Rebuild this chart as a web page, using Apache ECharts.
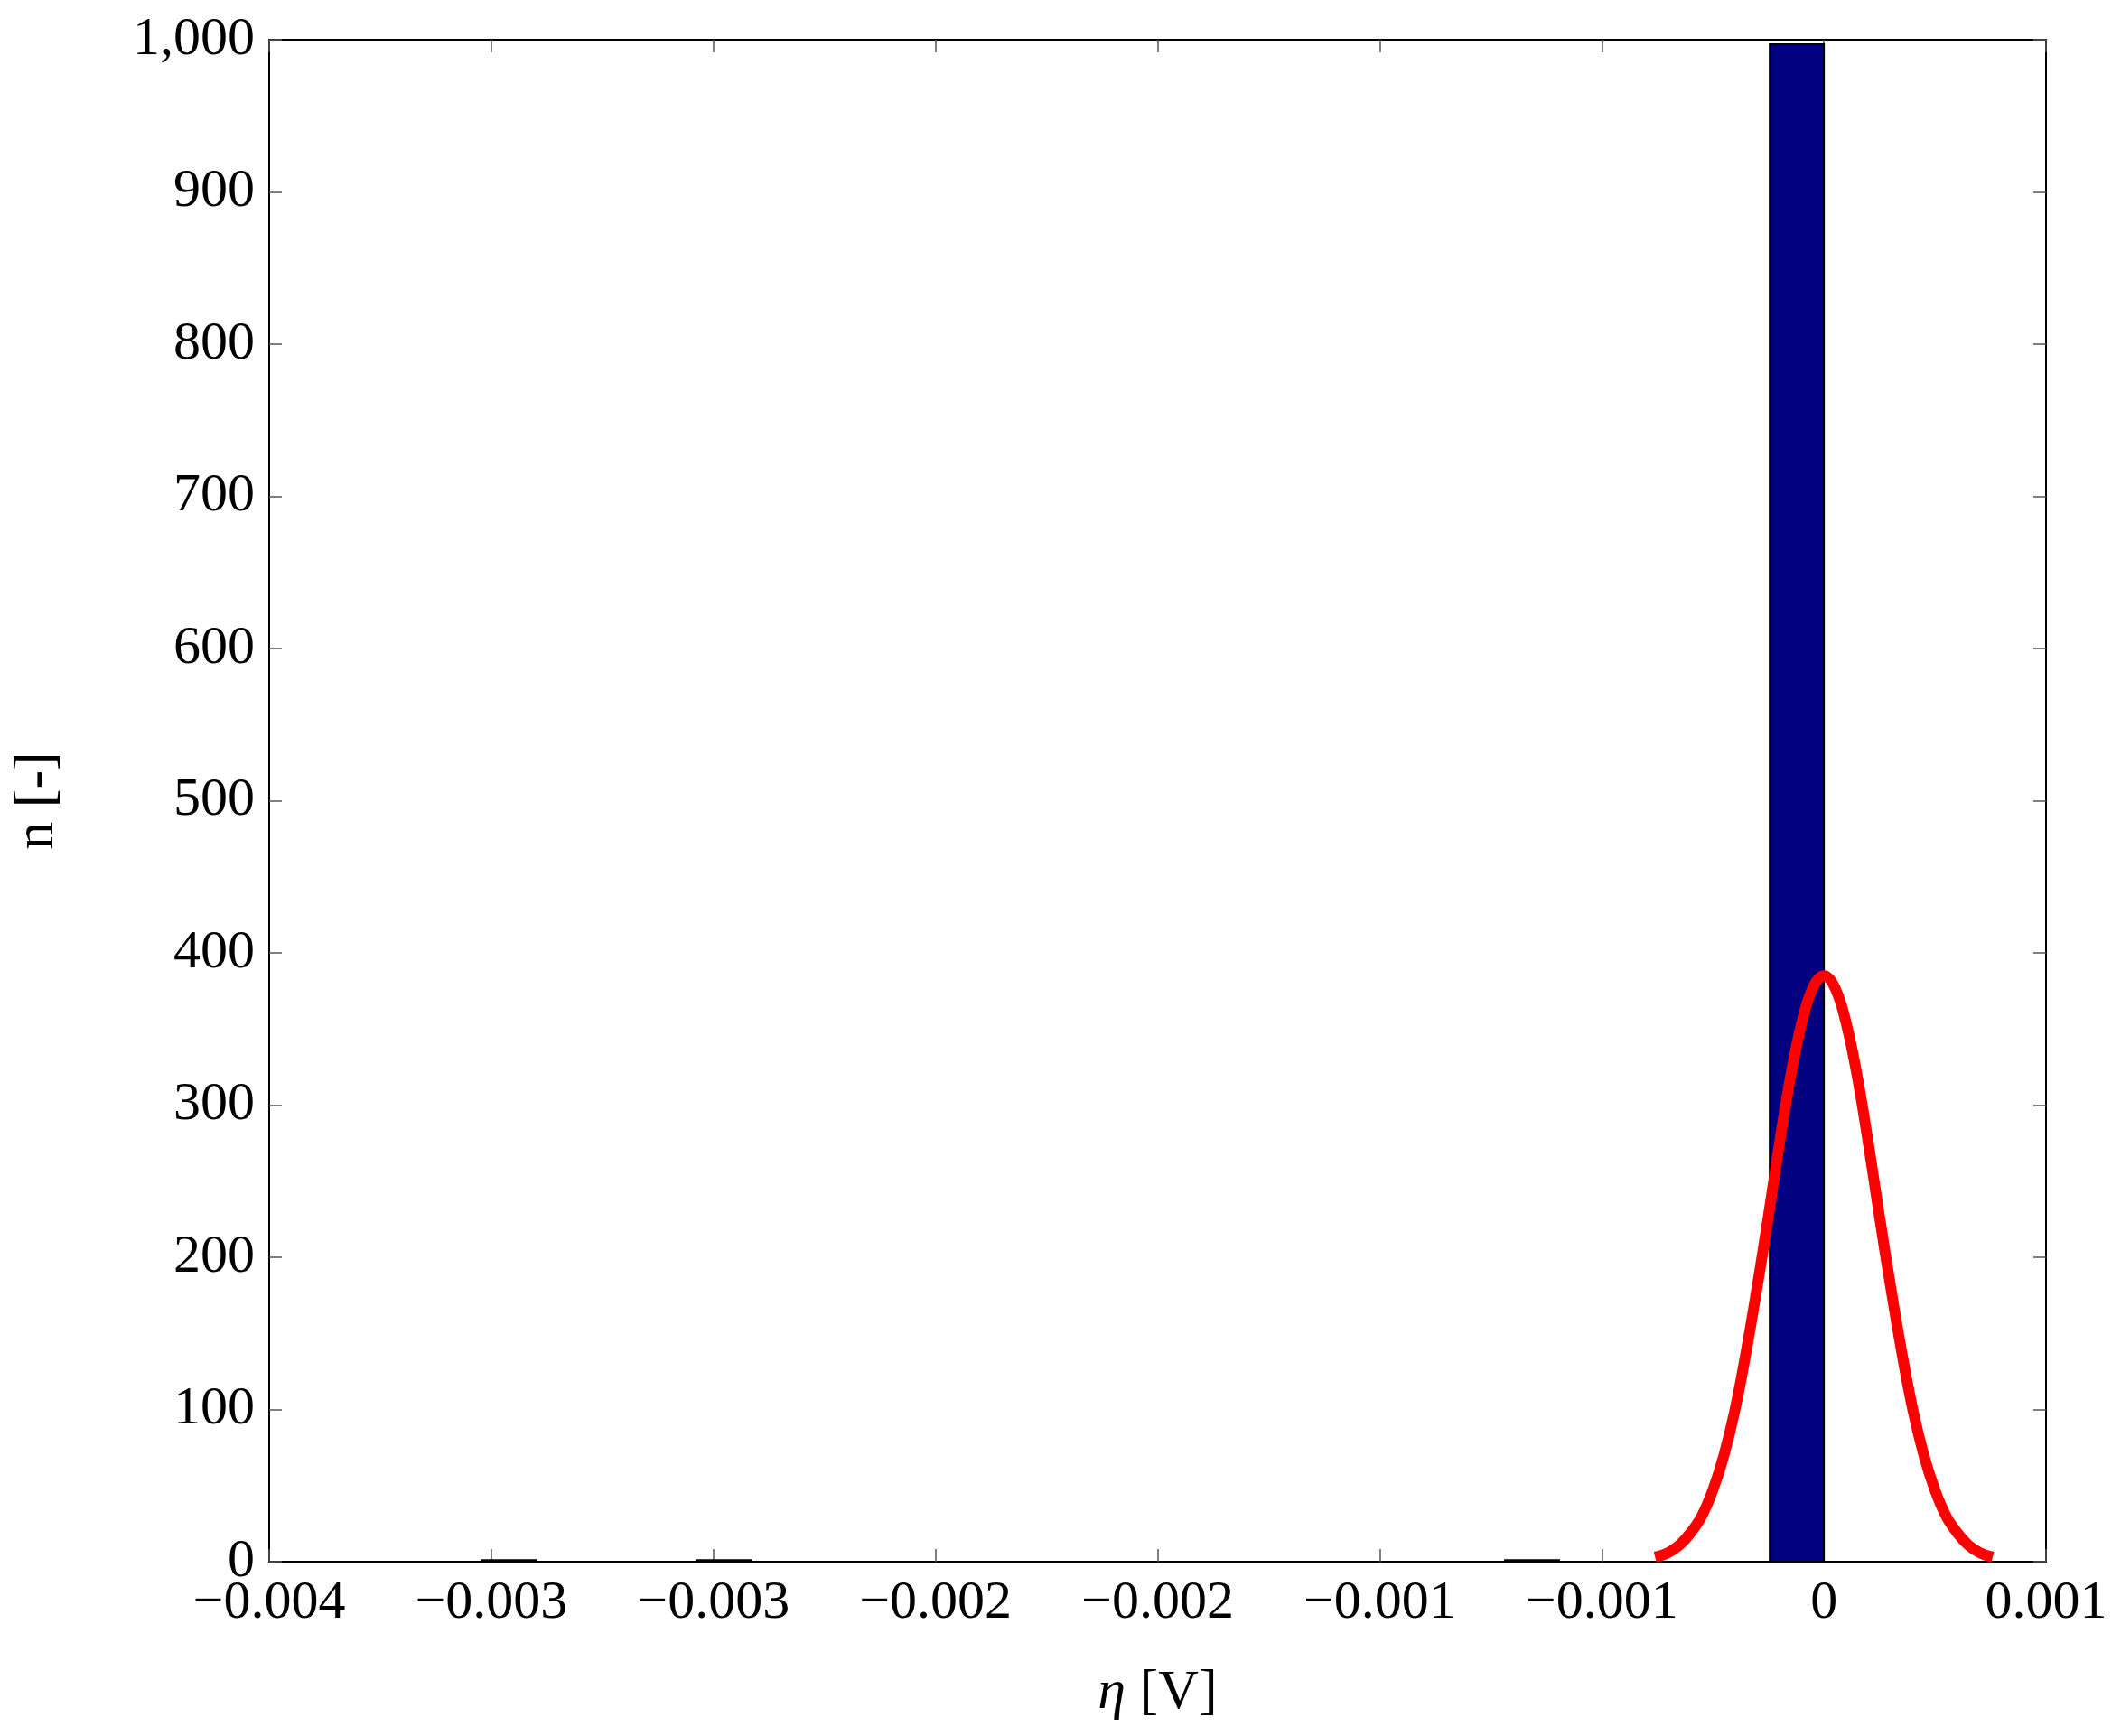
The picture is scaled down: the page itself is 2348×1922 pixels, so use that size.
<!DOCTYPE html>
<html><head><meta charset="utf-8">
<script src="https://cdn.jsdelivr.net/npm/echarts@6/dist/echarts.min.js"></script>
<style>html,body{margin:0;background:#fff}#c{width:2348px;height:1922px}</style>
</head><body><div id="c"></div>
<script>
// histogram bins: [start, end, count]
const binStarts = [-0.003022, -0.002536, -0.000718, -0.000122];
const binEnds   = [-0.002900, -0.002414, -0.000596, 0.0];
const binCounts = [1, 1, 1, 997];
// fitted normal curve
const fitX = [-0.00038,-0.00035,-0.000325,-0.0003,-0.000275,-0.00025,-0.000225,-0.0002,-0.000175,-0.00015,-0.000125,-0.0001,-0.000075,-0.00005,-0.000025,0,
  0.000025,0.00005,0.000075,0.0001,0.000125,0.00015,0.000175,0.0002,0.000225,0.00025,0.000275,0.0003,0.000325,0.00035,0.00038];
const fitY = [3,6,11,19,30,47,70,100,138,181,227,275,319,354,377,385,
  377,354,319,275,227,181,138,100,70,47,30,19,11,6,3];

const F = 'Liberation Serif, DejaVu Serif, serif';
const fmtX = v => {
  if (Math.abs(v) < 1e-12) return '0';
  const s = (Math.sign(v) * Math.round(Math.abs(v) * 1000 + 1e-9) / 1000).toFixed(3);
  return s.replace('-', '\u2212');
};
const axisCommon = {axisLine:{show:true,onZero:false,lineStyle:{color:'#000',width:2}},splitLine:{show:false},
  axisTick:{inside:true,length:14,lineStyle:{color:'#555',width:1.5}}};
const chart = echarts.init(document.getElementById('c'));
chart.setOption({
  animation:false,
  grid:{left:298,right:83,top:44,bottom:193},
  xAxis:[
    Object.assign({type:'value',min:-0.0035,max:0.0005,interval:0.0005,
      name:'{i|\u03b7} [V]',nameLocation:'middle',nameGap:115,
      nameTextStyle:{fontFamily:F,fontSize:62,color:'#000',rich:{i:{fontFamily:F,fontSize:62,fontStyle:'italic'}}},
      axisLabel:{fontFamily:F,fontSize:60,color:'#000',margin:16,formatter:fmtX}},axisCommon),
    Object.assign({type:'value',position:'top',min:-0.0035,max:0.0005,interval:0.0005,axisLabel:{show:false}},axisCommon)
  ],
  yAxis:[
    Object.assign({type:'value',min:0,max:1000,interval:100,
      name:'n [-]',nameLocation:'middle',nameGap:225,
      nameTextStyle:{fontFamily:F,fontSize:62,color:'#000'},
      axisLabel:{fontFamily:F,fontSize:60,color:'#000',margin:16,
        formatter:v=>v>=1000?v.toLocaleString('en-US'):String(v)}},axisCommon),
    Object.assign({type:'value',position:'right',min:0,max:1000,interval:100,axisLabel:{show:false}},axisCommon)
  ],
  series:[
    {type:'custom',
     data:binStarts.map((s,i)=>[s,binEnds[i],binCounts[i]]),
     renderItem:(p,api)=>{
       const a=api.coord([api.value(0),api.value(2)]);
       const b=api.coord([api.value(1),0]);
       return {type:'rect',shape:{x:a[0],y:a[1],width:b[0]-a[0],height:b[1]-a[1]},
         style:{fill:'#000080',stroke:'#000',lineWidth:2}};
     }},
    {type:'line',smooth:0.4,symbol:'none',data:fitX.map((x,i)=>[x,fitY[i]]),
     lineStyle:{color:'#ff0000',width:12},z:5}
  ]
});
</script></body></html>
